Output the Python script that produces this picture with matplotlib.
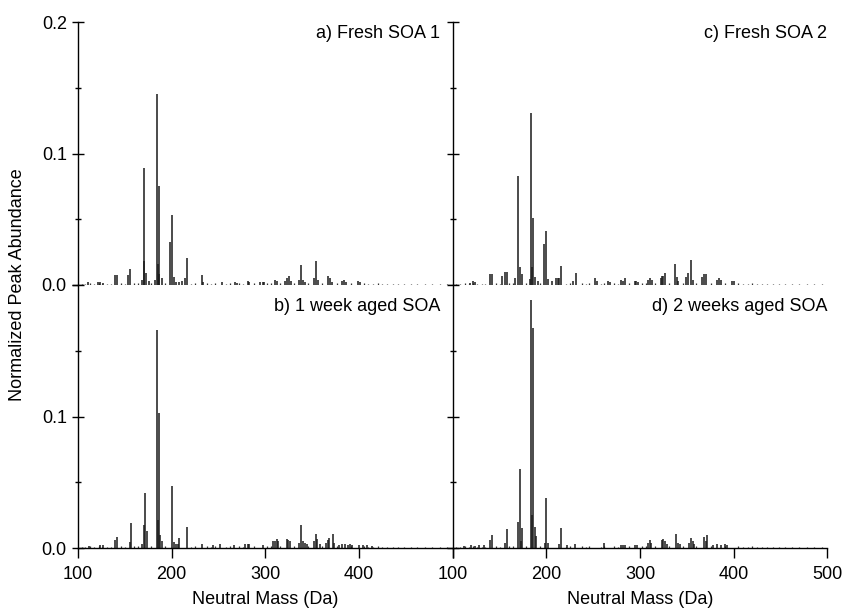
import matplotlib.pyplot as plt
from matplotlib.ticker import MultipleLocator

plt.rcParams['font.family'] = ['Liberation Sans', 'DejaVu Sans']

# small baseline peaks shared look (values read as ~0.001)
tiny_mass = [104, 108, 113, 117, 122, 126, 131, 135, 146, 150, 160, 164, 178, 193,
             221, 225, 238, 242, 246, 258, 262, 272, 276, 288, 302, 306, 316, 331,
             346, 360, 376, 391, 405, 410, 415, 420, 425, 430, 436, 442, 448, 455,
             462, 470, 478, 486, 494]
tiny_abund = [0.0006, 0.0008, 0.0012, 0.0007, 0.0015, 0.0010, 0.0009, 0.0011, 0.0013, 0.0010,
              0.0014, 0.0012, 0.0015, 0.0013, 0.0011, 0.0014, 0.0012, 0.0010, 0.0013, 0.0011,
              0.0012, 0.0013, 0.0010, 0.0014, 0.0015, 0.0012, 0.0013, 0.0014, 0.0012, 0.0013,
              0.0014, 0.0012, 0.0013, 0.0011, 0.0010, 0.0012, 0.0009, 0.0010, 0.0011, 0.0008,
              0.0009, 0.0007, 0.0008, 0.0006, 0.0007, 0.0006, 0.0005]

# a) Fresh SOA 1
mass_a = [111, 121, 124, 127, 139, 142, 153, 156, 168, 170, 171, 173, 176, 182, 184, 185,
          186, 187, 190, 198, 200, 202, 205, 208, 211, 214, 216, 232, 233, 254, 268, 270,
          281, 283, 294, 297, 299, 310, 312, 321, 323, 325, 327, 336, 338, 340, 342, 352,
          354, 356, 367, 369, 371, 382, 384, 386, 399, 401]
abund_a = [0.002, 0.002, 0.002, 0.0015, 0.0076, 0.0076, 0.0076, 0.012, 0.004, 0.089, 0.018,
           0.009, 0.003, 0.004, 0.145, 0.016, 0.075, 0.008, 0.005, 0.033, 0.053, 0.006, 0.002,
           0.0025, 0.003, 0.005, 0.0205, 0.0076, 0.002, 0.002, 0.002, 0.0015, 0.003, 0.002,
           0.002, 0.0025, 0.002, 0.004, 0.003, 0.003, 0.005, 0.007, 0.003, 0.004, 0.015, 0.004,
           0.002, 0.005, 0.018, 0.004, 0.007, 0.005, 0.002, 0.003, 0.004, 0.002, 0.003, 0.002]

# c) Fresh SOA 2
mass_c = [118, 122, 124, 140, 142, 153, 156, 158, 166, 170, 172, 174, 182, 184, 185, 186,
          188, 191, 198, 200, 202, 206, 210, 212, 214, 216, 228, 232, 252, 254, 266, 268,
          280, 282, 284, 295, 296, 298, 309, 311, 313, 322, 323, 325, 327, 337, 339, 341,
          349, 351, 354, 356, 366, 368, 370, 382, 384, 386, 398, 400]
abund_c = [0.0015, 0.003, 0.002, 0.0084, 0.0084, 0.0066, 0.0098, 0.0098, 0.005, 0.0827, 0.0135,
           0.008, 0.0045, 0.131, 0.014, 0.051, 0.006, 0.003, 0.031, 0.041, 0.0045, 0.003, 0.005,
           0.005, 0.005, 0.0145, 0.003, 0.009, 0.0055, 0.003, 0.003, 0.002, 0.004, 0.003, 0.005,
           0.003, 0.003, 0.002, 0.004, 0.005, 0.004, 0.005, 0.007, 0.007, 0.009, 0.016, 0.006,
           0.003, 0.006, 0.009, 0.019, 0.004, 0.006, 0.008, 0.008, 0.004, 0.005, 0.004, 0.003,
           0.003]

# b) 1 week aged SOA
mass_b = [112, 124, 127, 140, 142, 155, 157, 168, 170, 172, 174, 184, 185, 186, 188, 190,
          200, 202, 205, 207, 208, 216, 232, 244, 252, 267, 278, 281, 283, 297, 308, 310,
          312, 314, 323, 324, 326, 336, 338, 340, 342, 344, 352, 354, 355, 358, 365, 367,
          368, 372, 373, 379, 382, 385, 388, 390, 393, 400, 404, 408, 414]
abund_b = [0.0015, 0.002, 0.002, 0.0064, 0.0082, 0.0048, 0.019, 0.003, 0.0176, 0.042, 0.0126,
           0.1656, 0.021, 0.103, 0.0097, 0.005, 0.047, 0.0045, 0.003, 0.003, 0.008, 0.0158,
           0.003, 0.002, 0.003, 0.002, 0.003, 0.003, 0.003, 0.002, 0.005, 0.005, 0.007, 0.005,
           0.007, 0.006, 0.005, 0.004, 0.0175, 0.005, 0.004, 0.003, 0.005, 0.011, 0.007, 0.003,
           0.004, 0.006, 0.008, 0.011, 0.004, 0.002, 0.003, 0.003, 0.002, 0.003, 0.002, 0.002,
           0.002, 0.002, 0.0015]

# d) 2 weeks aged SOA
mass_d = [112, 120, 124, 128, 133, 140, 142, 156, 158, 170, 172, 173, 174, 184, 185, 186,
          188, 189, 199, 200, 202, 213, 216, 222, 231, 261, 280, 282, 284, 295, 297, 309,
          311, 312, 323, 325, 327, 329, 338, 340, 343, 352, 354, 356, 358, 368, 370, 372,
          378, 382, 386, 391, 393]
abund_d = [0.0015, 0.002, 0.0015, 0.002, 0.002, 0.006, 0.0102, 0.004, 0.0143, 0.0198, 0.060,
           0.005, 0.0156, 0.189, 0.025, 0.167, 0.016, 0.009, 0.004, 0.038, 0.004, 0.003,
           0.0156, 0.002, 0.003, 0.0035, 0.002, 0.002, 0.002, 0.002, 0.002, 0.004, 0.006,
           0.004, 0.006, 0.007, 0.005, 0.003, 0.011, 0.004, 0.003, 0.004, 0.0075, 0.005,
           0.003, 0.0087, 0.005, 0.0097, 0.002, 0.003, 0.002, 0.003, 0.002]

panels = [
    ('a) Fresh SOA 1', mass_a, abund_a),
    ('c) Fresh SOA 2', mass_c, abund_c),
    ('b) 1 week aged SOA', mass_b, abund_b),
    ('d) 2 weeks aged SOA', mass_d, abund_d),
]

fig = plt.figure(figsize=(8.43, 6.10), dpi=100)

lefts = [0.0925, 0.537]
bottoms = [0.5328, 0.1016]
w, h = 0.4445, 0.4311

for i, (label, mass, abund) in enumerate(panels):
    row, col = i // 2, i % 2
    ax = fig.add_axes([lefts[col], bottoms[row], w, h])
    ax.vlines(tiny_mass, 0, tiny_abund, color='#333333', lw=0.9)
    ax.vlines(mass, 0, abund, color='#1a1a1a', lw=1.1)

    ax.set_xlim(100, 500)
    ax.set_ylim(0, 0.2)

    for s in ['top', 'right']:
        ax.spines[s].set_visible(False)
    ax.spines['left'].set_linewidth(1.0)

    ax.yaxis.set_major_locator(MultipleLocator(0.1))
    ax.yaxis.set_minor_locator(MultipleLocator(0.05))
    ax.tick_params(axis='y', which='major', direction='inout', length=9, width=1.0, labelsize=13)
    ax.tick_params(axis='y', which='minor', direction='inout', length=5, width=1.0)

    if col == 0:
        if row == 0:
            ax.set_yticks([0, 0.1, 0.2], ['0.0', '0.1', '0.2'])
        else:
            ax.set_yticks([0, 0.1, 0.2], ['0.0', '0.1', ''])
    else:
        ax.tick_params(axis='y', labelleft=False)

    if row == 0:
        ax.spines['bottom'].set_visible(False)
        ax.tick_params(axis='x', bottom=False, labelbottom=False)
    else:
        ax.spines['bottom'].set_linewidth(1.0)
        ax.set_xticks([100, 200, 300, 400, 500])
        if col == 0:
            ax.set_xticklabels(['100', '200', '300', '400', ''])
        ax.tick_params(axis='x', direction='out', length=7, width=1.0, labelsize=13, pad=6)
        ax.set_xlabel('Neutral Mass (Da)', fontsize=13, labelpad=6)

    tx = 0.966 if col == 0 else 1.0
    ty = 0.958 if row == 0 else 0.917
    ax.text(tx, ty, label, transform=ax.transAxes, ha='right', va='center', fontsize=13)

fig.text(0.021, 0.533, 'Normalized Peak Abundance', rotation=90,
         ha='center', va='center', fontsize=13)

fig.savefig('out.png', dpi=100)
